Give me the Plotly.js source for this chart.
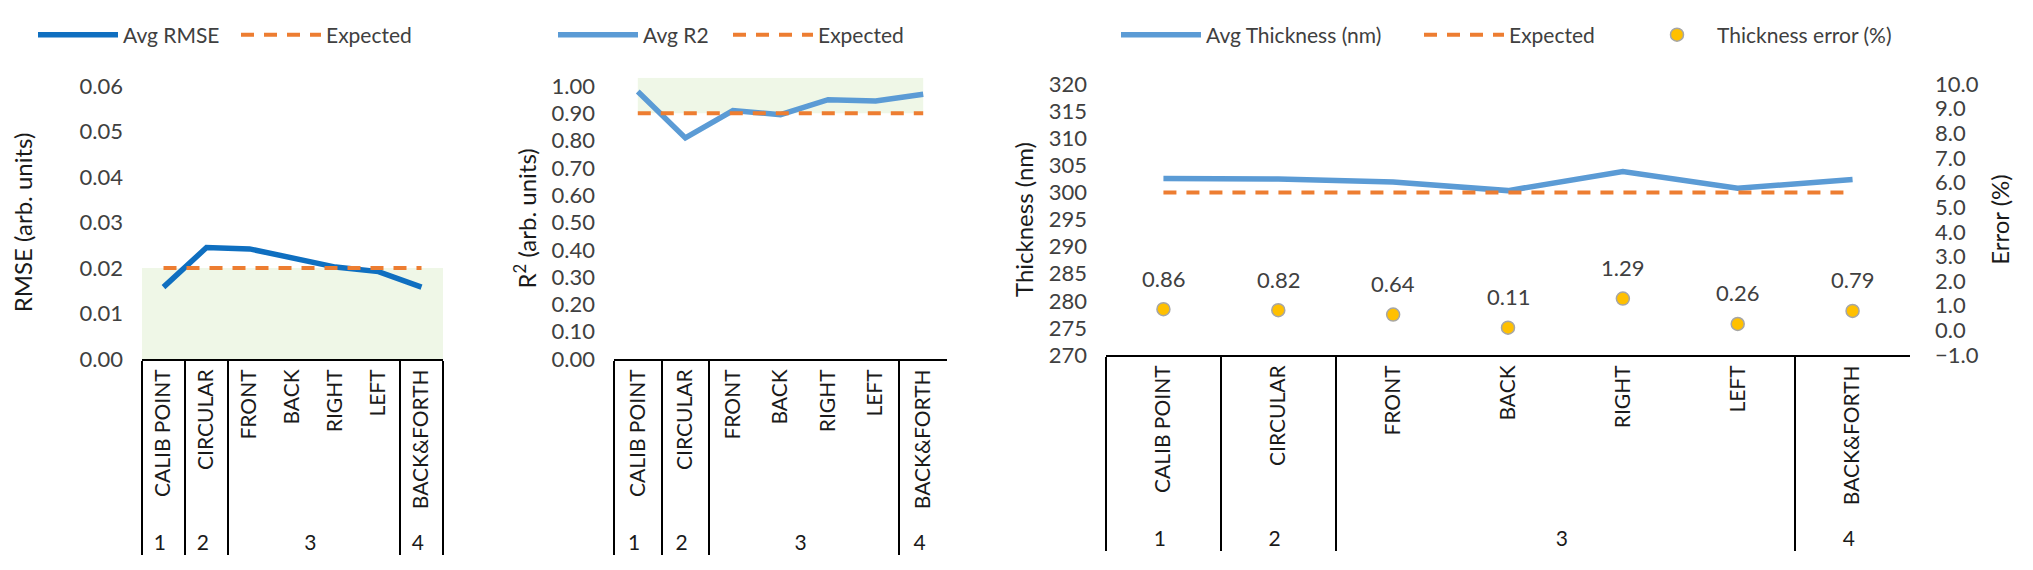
<!DOCTYPE html>
<html>
<head>
<meta charset="utf-8">
<script src="https://cdn.plot.ly/plotly-3.0.1.min.js"></script>
<style>html,body{margin:0;padding:0;background:#fff;} #chart{width:2033px;height:570px;}</style>
</head>
<body>
<div id="chart"></div>
<script>
// ---- data ----
const categories = ['CALIB POINT', 'CIRCULAR', 'FRONT', 'BACK', 'RIGHT', 'LEFT', 'BACK&FORTH'];
const groups = ['1', '2', '3', '3', '3', '3', '4'];
const avgRmse = [0.0158, 0.0245, 0.0242, 0.0223, 0.0202, 0.0192, 0.0158];
const expectedRmse = [0.02, 0.02, 0.02, 0.02, 0.02, 0.02, 0.02];
const rmseBandTop = 0.02;
const avgR2 = [0.98, 0.81, 0.91, 0.895, 0.95, 0.945, 0.97];
const expectedR2 = [0.9, 0.9, 0.9, 0.9, 0.9, 0.9, 0.9];
const r2BandTop = [1.03, 1.03, 1.03, 1.03, 1.03, 1.03, 1.03];
const avgThickness = [302.58, 302.46, 301.92, 300.33, 303.87, 300.78, 302.37];
const expectedThickness = [300, 300, 300, 300, 300, 300, 300];
const thicknessError = [0.86, 0.82, 0.64, 0.11, 1.29, 0.26, 0.79];

const X = [groups, categories];
const FONT = 'Lato, "Open Sans", sans-serif';
const W = 2033, H = 570;
const px = v => v / W;
const py = v => (H - v) / H;

const blueDark = '#0F6FC0';
const blueLight = '#5B9BD5';
const orange = '#ED7D31';
const green = '#EFF7E7';
const dash = '13px,10px';

const traces = [
  // panel 1
  {x: X, y: avgRmse, xaxis: 'x', yaxis: 'y', mode: 'lines', name: 'Avg RMSE',
   line: {color: blueDark, width: 5.5}, legend: 'legend'},
  {x: X, y: expectedRmse, xaxis: 'x', yaxis: 'y', mode: 'lines', name: 'Expected',
   line: {color: orange, width: 4, dash: dash}, legend: 'legend'},
  // panel 2
  {x: X, y: expectedR2, xaxis: 'x2', yaxis: 'y2', mode: 'lines', line: {width: 0, color: 'rgba(0,0,0,0)'},
   showlegend: false, hoverinfo: 'skip'},
  {x: X, y: r2BandTop, xaxis: 'x2', yaxis: 'y2', mode: 'lines', line: {width: 0, color: 'rgba(0,0,0,0)'},
   fill: 'tonexty', fillcolor: green, showlegend: false, hoverinfo: 'skip'},
  {x: X, y: avgR2, xaxis: 'x2', yaxis: 'y2', mode: 'lines', name: 'Avg R2',
   line: {color: blueLight, width: 5.5}, legend: 'legend2'},
  {x: X, y: expectedR2, xaxis: 'x2', yaxis: 'y2', mode: 'lines', name: 'Expected',
   line: {color: orange, width: 4, dash: dash}, legend: 'legend2'},
  // panel 3
  {x: X, y: avgThickness, xaxis: 'x3', yaxis: 'y3', mode: 'lines', name: 'Avg Thickness (nm)',
   line: {color: blueLight, width: 5.5}, legend: 'legend3'},
  {x: X, y: expectedThickness, xaxis: 'x3', yaxis: 'y3', mode: 'lines', name: 'Expected',
   line: {color: orange, width: 4, dash: dash}, legend: 'legend3'},
  {x: X, y: thicknessError, xaxis: 'x3', yaxis: 'y4', mode: 'markers', name: 'Thickness error (%)',
   marker: {color: '#FFC000', size: 13, line: {color: '#A6A6A6', width: 1.5}}, legend: 'legend4'}
];

const tickFont = {family: FONT, size: 22, color: '#404040'};
const titleFont = {family: FONT, size: 24, color: '#1a1a1a'};
const catFont = {family: FONT, size: 21, color: '#1a1a1a'};
const legFont = {family: FONT, size: 21, color: '#404040'};

function xAxis(domain, anchor) {
  return {
    type: 'multicategory', domain: domain, anchor: anchor, range: [-0.5, categories.length - 0.5],
    showline: true, linecolor: '#000', linewidth: 2,
    showdividers: true, dividercolor: '#000', dividerwidth: 2,
    tickangle: -90, ticks: '', showgrid: false, zeroline: false,
    tickfont: catFont, automargin: false, fixedrange: true
  };
}
function yAxis(domain, anchor, range, dtick, fmt, title, standoff) {
  return {
    domain: domain, anchor: anchor, range: range, dtick: dtick, tick0: range[0] < 0 ? 0 : range[0],
    tickformat: fmt, showgrid: false, zeroline: false, showline: false, ticks: '',
    tickfont: tickFont, ticklabelstandoff: 18, automargin: false, fixedrange: true,
    title: {text: title, font: titleFont, standoff: standoff}
  };
}
function legendBox(x, entrywidth, itemwidth) {
  const o = {x: px(x), y: py(35), xanchor: 'left', yanchor: 'middle', orientation: 'h',
             traceorder: 'normal', itemwidth: itemwidth, font: legFont, bgcolor: 'rgba(0,0,0,0)'};
  if (entrywidth) o.entrywidth = entrywidth;
  return o;
}

const layout = {
  width: W, height: H,
  margin: {l: 0, r: 0, t: 0, b: 0},
  paper_bgcolor: '#fff', plot_bgcolor: 'rgba(0,0,0,0)',
  showlegend: true,
  xaxis: xAxis([px(142), px(443)], 'y'),
  yaxis: yAxis([py(359), py(86)], 'x', [0, 0.06], 0.01, '.2f', 'RMSE (arb. units)', 40),
  xaxis2: xAxis([px(614), px(947)], 'y2'),
  yaxis2: yAxis([py(359), py(77.8)], 'x2', [0, 1.03], 0.1, '.2f', 'R<sup>2</sup> (arb. units)', 8),
  xaxis3: xAxis([px(1106), px(1910)], 'y3'),
  yaxis3: yAxis([py(355), py(84)], 'x3', [270, 320], 5, 'd', 'Thickness (nm)', 8),
  yaxis4: Object.assign(yAxis([py(355), py(84)], 'x3', [-1, 10], 1, '.1f', 'Error (%)', 14),
                        {overlaying: 'y3', side: 'right', ticklabelstandoff: 24}),
  shapes: [
    {type: 'rect', xref: 'x domain', yref: 'y', x0: 0, x1: 1, y0: 0, y1: rmseBandTop,
     fillcolor: green, line: {width: 0}, layer: 'below'}
  ],
  annotations: thicknessError.map((v, i) => ({
    x: i, y: v, xref: 'x3', yref: 'y4', text: v.toFixed(2), showarrow: false,
    yshift: 31, font: {family: FONT, size: 22, color: '#404040'}
  })),
  legend: legendBox(33, 108, 80),
  legend2: legendBox(553, 80, 80),
  legend3: legendBox(1116, 208, 80),
  legend4: legendBox(1637, 0, 70)
};

Plotly.newPlot('chart', traces, layout, {displayModeBar: false, staticPlot: true});
</script>
</body>
</html>
